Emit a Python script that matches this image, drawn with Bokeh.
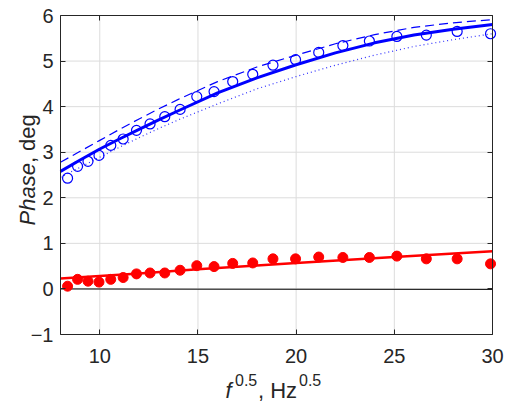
import math
from bokeh.plotting import figure
from bokeh.models import Range1d, FixedTicker, LinearAxis, Label
from bokeh.embed import file_html
from bokeh.resources import INLINE

# measured data (sqrt of frequency, phase in degrees)
f_sqrt = [8.36, 8.87, 9.40, 9.96, 10.56, 11.19, 11.87, 12.56, 13.31, 14.09,
          14.94, 15.82, 16.77, 17.79, 18.82, 19.97, 21.15, 22.38, 23.73,
          25.13, 26.63, 28.20, 29.90]
phase_blue = [2.43, 2.69, 2.80, 2.93, 3.15, 3.29, 3.48, 3.62, 3.78, 3.94,
              4.22, 4.33, 4.55, 4.71, 4.91, 5.03, 5.19, 5.34, 5.44,
              5.54, 5.57, 5.65, 5.60]
phase_red = [0.06, 0.21, 0.17, 0.15, 0.21, 0.25, 0.33, 0.35, 0.35, 0.41,
             0.51, 0.49, 0.56, 0.57, 0.66, 0.66, 0.70, 0.69, 0.69,
             0.72, 0.66, 0.66, 0.55]

# model curves
model_x = [8, 9, 10, 11, 12, 13, 14, 16, 18, 20, 22, 24, 26, 28, 30]
model_solid = [2.58, 2.83, 3.07, 3.29, 3.50, 3.71, 3.91, 4.30, 4.63, 4.92,
               5.18, 5.40, 5.57, 5.70, 5.80]
model_dashed = [2.78, 3.02, 3.26, 3.50, 3.73, 3.95, 4.16, 4.55, 4.87, 5.13,
                5.38, 5.58, 5.74, 5.84, 5.91]
model_dotted = [2.45, 2.67, 2.89, 3.11, 3.32, 3.52, 3.71, 4.06, 4.39, 4.66,
                4.91, 5.13, 5.32, 5.47, 5.60]

red_fit_x = [8, 12, 15, 20, 25, 30]
red_fit_y = [0.23, 0.34, 0.43, 0.57, 0.70, 0.825]

zero_x = [8, 15, 30]
zero_y = [0.0, -0.005, -0.01]

x_ticks = [10, 15, 20, 25, 30]
y_ticks = [-1, 0, 1, 2, 3, 4, 5, 6]

# axes box in data units and its place on the canvas (px)
X0, X1, Y0, Y1 = 8, 30, -1, 6
W, H = 508, 404
BOX_L, BOX_R, BOX_T, BOX_B = 60, 492, 15, 334
KX = (X1 - X0) / (BOX_R - BOX_L)
KY = (Y1 - Y0) / (BOX_B - BOX_T)

def dx(px):
    return X0 + (px - BOX_L) * KX

def dy(py):
    return Y0 - (py - BOX_B) * KY

FONT = "Liberation Sans"
AX = "#262626"

p = figure(width=W, height=H, min_border=0, title_location=None,
           x_range=Range1d(dx(0), dx(W)), y_range=Range1d(dy(H), dy(0)),
           output_backend="svg", toolbar_location=None)
p.background_fill_color = "white"
p.border_fill_color = "white"
p.outline_line_color = None
p.xgrid.visible = False
p.ygrid.visible = False

# grid lines at the tick positions, inside the axes box
p.segment(x0=x_ticks, y0=[Y0] * len(x_ticks), x1=x_ticks, y1=[Y1] * len(x_ticks),
          line_color="#dcdcdc", line_width=1)
p.segment(x0=[X0] * len(y_ticks), y0=y_ticks, x1=[X1] * len(y_ticks), y1=y_ticks,
          line_color="#dcdcdc", line_width=1)

def style_axis(ax, ticks, bounds, loc, labels=True):
    ax.ticker = FixedTicker(ticks=ticks)
    ax.bounds = bounds
    ax.fixed_location = loc
    ax.axis_line_color = AX
    ax.axis_line_width = 1
    ax.major_tick_line_color = AX
    ax.major_tick_in = 5
    ax.major_tick_out = 0
    ax.minor_tick_line_color = None
    ax.major_label_text_font = FONT
    ax.major_label_text_font_size = "20px"
    ax.major_label_text_color = AX
    if not labels:
        ax.major_label_text_font_size = "1px"
        ax.major_label_text_alpha = 0
        ax.major_label_standoff = 0

style_axis(p.xaxis[0], x_ticks, (X0, X1), Y0)
style_axis(p.yaxis[0], y_ticks, (Y0, Y1), X0)
p.xaxis[0].major_label_standoff = 14
p.yaxis[0].major_label_standoff = 7

top = LinearAxis()
style_axis(top, x_ticks, (X0, X1), Y1, labels=False)
p.add_layout(top, "above")
right = LinearAxis()
style_axis(right, y_ticks, (Y0, Y1), X1, labels=False)
p.add_layout(right, "right")

# lines
p.line(zero_x, zero_y, line_color="black", line_width=1)
p.line(model_x, model_dotted, line_color="#3030ff", line_width=1.2, line_dash="1 3")
p.line(model_x, model_dashed, line_color="#0000ff", line_width=1.2, line_dash="9 5")
p.line(model_x, model_solid, line_color="#0000ff", line_width=3)
p.line(red_fit_x, red_fit_y, line_color="#ff0000", line_width=2.5)

p.scatter(f_sqrt, phase_blue, marker="circle", size=10, fill_color=None,
          line_color="#0000ff", line_width=1.2)
p.scatter(f_sqrt, phase_red, marker="circle", size=10, fill_color="#ff0000",
          line_color="#ff0000", line_width=1)

# axis titles (mixed italic / superscript), anchors given in canvas px
def lab(text, px, py, size, style="normal", angle=0.0):
    p.add_layout(Label(x=dx(px), y=dy(py), text=text,
                       text_font=FONT, text_font_size=size, text_font_style=style,
                       text_color=AX, text_align="left", text_baseline="alphabetic",
                       angle=angle))

lab("f", 225, 390, "22px", "italic")
lab("0.5", 234.5, 379, "16px")
lab(", Hz", 257.5, 390, "22px")
lab("0.5", 298.5, 379, "16px")

lab("Phase", 26.5, 225, "22px", "italic", math.pi / 2)
lab(", deg", 26.5, 162.6, "22px", "normal", math.pi / 2)

open("out.html", "w").write(file_html(p, INLINE))
